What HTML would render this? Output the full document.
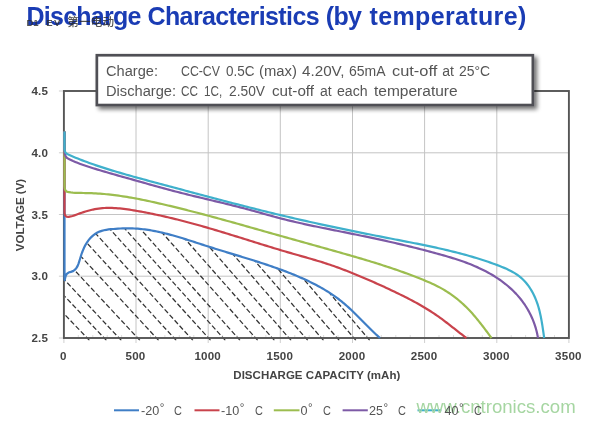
<!DOCTYPE html>
<html><head><meta charset="utf-8"><title>Discharge Characteristics (by temperature)</title>
<style>
html,body{margin:0;padding:0;background:#fff;}
body{width:600px;height:424px;position:relative;overflow:hidden;filter:blur(0.35px);font-family:"Liberation Sans","Noto Sans CJK SC",sans-serif;}
.t{position:absolute;white-space:nowrap;line-height:1;}
#title{left:0;top:3.8px;font-size:25px;font-weight:bold;color:#1a3cb4;}
#title span{position:absolute;top:0}
#wm1{left:26.5px;top:16.3px;font-size:11.6px;color:#2e2e2e;opacity:.82}
.wl{font-size:9.5px;font-weight:bold;position:relative;top:-0.5px}
.wc{margin-left:5.5px;letter-spacing:0.1px;font-weight:500}
.lg{font-size:14px;color:#555;transform-origin:0 0;}
.yl{font-size:11.6px;font-weight:bold;color:#444;width:48.2px;text-align:right;left:0;letter-spacing:0.2px;margin-top:0.2px}
.xl{font-size:11.6px;font-weight:bold;color:#444;width:60px;text-align:center;top:349.8px;letter-spacing:0.2px;}
#xt{left:233.3px;top:370px;font-size:11.5px;letter-spacing:0.03px;font-weight:bold;color:#444;}
#yt{left:21.2px;top:215px;font-size:11.5px;font-weight:bold;color:#444;transform:translate(-50%,-50%) rotate(-90deg);}
.bl{font-size:12.6px;color:#555;top:404.5px;}
.dg{font-size:11.5px;position:relative;top:-3.2px;margin-left:0.6px}
.cc{display:inline-block;transform:scaleX(0.87);transform-origin:0 50%}
#wm2{left:416.5px;top:397.5px;font-size:18.6px;color:#a6d6a2;}
</style></head><body>
<svg width="600" height="424" viewBox="0 0 600 424" style="position:absolute;left:0;top:0">
<defs>
<filter id="sh" x="-5%" y="-20%" width="112%" height="150%"><feGaussianBlur in="SourceAlpha" stdDeviation="2.2"/><feOffset dx="2.5" dy="2.5"/><feComponentTransfer><feFuncA type="linear" slope="0.55"/></feComponentTransfer><feMerge><feMergeNode/><feMergeNode in="SourceGraphic"/></feMerge></filter>
<clipPath id="hc"><path d="M64.5 340.4 L64.5 280  L64.73 280.10 L65.04 278.62 L65.67 275.92 L66.81 273.81 L68.57 272.52 L70.82 271.88 L73.07 271.10 L74.98 269.72 L76.50 267.90 L77.66 265.85 L78.54 263.69 L79.25 261.45 L79.92 259.20 L80.60 256.95 L81.32 254.72 L82.09 252.51 L82.92 250.34 L83.84 248.20 L84.85 246.10 L85.98 244.05 L87.24 242.06 L88.63 240.15 L90.15 238.33 L91.79 236.64 L93.55 235.10 L95.43 233.74 L97.42 232.57 L99.51 231.62 L101.69 230.86 L103.94 230.27 L106.24 229.81 L108.58 229.46 L110.94 229.19 L113.31 228.98 L115.66 228.79 L118.01 228.63 L120.34 228.51 L122.67 228.41 L124.99 228.35 L127.31 228.33 L129.06 228.33 L130.80 228.36 L132.55 228.41 L134.29 228.49 L136.03 228.58 L137.77 228.71 L139.51 228.85 L141.25 229.02 L142.99 229.22 L144.73 229.43 L146.46 229.67 L148.20 229.92 L149.93 230.20 L151.67 230.49 L153.40 230.81 L155.13 231.14 L156.86 231.49 L158.59 231.86 L160.32 232.24 L162.05 232.63 L163.77 233.04 L165.50 233.47 L167.22 233.91 L168.95 234.36 L170.67 234.82 L172.39 235.29 L174.11 235.77 L175.83 236.27 L177.55 236.77 L179.27 237.28 L180.99 237.80 L182.71 238.32 L184.42 238.85 L186.14 239.39 L187.85 239.93 L189.56 240.47 L191.28 241.02 L192.99 241.57 L194.70 242.13 L196.41 242.68 L198.11 243.24 L199.82 243.79 L201.53 244.35 L203.23 244.90 L204.94 245.45 L206.64 246.00 L208.34 246.55 L210.05 247.09 L211.75 247.62 L213.45 248.16 L215.14 248.69 L216.84 249.22 L218.54 249.74 L220.24 250.26 L221.93 250.78 L223.62 251.30 L225.32 251.82 L227.01 252.33 L228.70 252.84 L230.39 253.36 L232.08 253.87 L233.77 254.38 L235.45 254.89 L237.14 255.40 L238.82 255.91 L240.51 256.42 L242.19 256.93 L243.87 257.45 L245.55 257.96 L247.23 258.48 L248.91 259.00 L250.58 259.52 L252.26 260.04 L253.93 260.56 L255.60 261.09 L257.28 261.62 L258.95 262.16 L260.61 262.70 L262.28 263.24 L263.95 263.79 L265.61 264.34 L267.28 264.89 L268.94 265.45 L270.60 266.02 L272.26 266.59 L273.92 267.17 L275.58 267.75 L277.24 268.34 L278.89 268.94 L280.54 269.54 L282.20 270.15 L283.85 270.77 L285.50 271.39 L287.14 272.03 L288.79 272.67 L290.44 273.32 L292.08 273.97 L293.72 274.64 L295.36 275.32 L297.00 276.00 L298.64 276.70 L300.27 277.40 L301.90 278.12 L303.52 278.85 L305.14 279.59 L306.76 280.34 L308.37 281.10 L309.97 281.87 L311.57 282.65 L313.16 283.45 L314.75 284.26 L316.32 285.09 L317.89 285.93 L319.45 286.78 L321.00 287.64 L322.55 288.52 L324.08 289.42 L325.60 290.33 L327.11 291.25 L328.61 292.19 L330.10 293.15 L331.58 294.13 L333.04 295.12 L334.50 296.12 L335.93 297.15 L337.36 298.19 L338.77 299.25 L340.17 300.33 L341.55 301.42 L342.91 302.54 L344.27 303.67 L345.60 304.82 L346.93 305.99 L348.24 307.17 L349.54 308.36 L350.83 309.57 L352.12 310.78 L353.39 312.01 L354.66 313.25 L355.92 314.49 L357.17 315.74 L358.43 316.99 L359.67 318.25 L360.92 319.51 L362.16 320.78 L363.41 322.04 L364.65 323.31 L365.90 324.57 L367.15 325.83 L368.40 327.08 L369.66 328.33 L370.92 329.57 L372.19 330.81 L373.47 332.04 L374.76 333.25 L376.05 334.46 L377.36 335.65 L378.67 336.83 L380.00 338.00 L382 340.4 Z"/></clipPath>
</defs>
<path d="M136.0 91.0 V338.0 M208.2 91.0 V338.0 M280.3 91.0 V338.0 M352.5 91.0 V338.0 M424.6 91.0 V338.0 M496.8 91.0 V338.0 M63.9 152.8 H568.9 M63.9 214.5 H568.9 M63.9 276.2 H568.9" stroke="#c4c4c4" stroke-width="1" fill="none"/>
<path d="M58.9 91.0 H63.9 M58.9 152.8 H63.9 M58.9 214.5 H63.9 M58.9 276.2 H63.9 M58.9 338.0 H63.9 M63.9 338.0 V343.0 M136.0 338.0 V343.0 M208.2 338.0 V343.0 M280.3 338.0 V343.0 M352.5 338.0 V343.0 M424.6 338.0 V343.0 M496.8 338.0 V343.0 M568.9 338.0 V343.0" stroke="#cfcfcf" stroke-width="1" fill="none"/>
<path d="M78.3 335.0 V338.0 M92.8 335.0 V338.0 M107.2 335.0 V338.0 M121.6 335.0 V338.0 M150.5 335.0 V338.0 M164.9 335.0 V338.0 M179.3 335.0 V338.0 M193.8 335.0 V338.0 M222.6 335.0 V338.0 M237.0 335.0 V338.0 M251.5 335.0 V338.0 M265.9 335.0 V338.0 M294.8 335.0 V338.0 M309.2 335.0 V338.0 M323.6 335.0 V338.0 M338.0 335.0 V338.0 M366.9 335.0 V338.0 M381.3 335.0 V338.0 M395.8 335.0 V338.0 M410.2 335.0 V338.0 M439.0 335.0 V338.0 M453.5 335.0 V338.0 M467.9 335.0 V338.0 M482.3 335.0 V338.0 M511.2 335.0 V338.0 M525.6 335.0 V338.0 M540.0 335.0 V338.0 M554.5 335.0 V338.0" stroke="#dddddd" stroke-width="1" fill="none"/>
<g clip-path="url(#hc)"><path d="M89.4 340.4 L-25.3 220.0 M106.4 340.4 L-7.4 220.0 M121.3 340.4 L8.3 220.0 M139.9 340.4 L27.8 220.0 M158.6 340.4 L47.3 220.0 M176.2 340.4 L65.8 220.0 M192.9 340.4 L83.3 220.0 M210.6 340.4 L101.7 220.0 M225.3 340.4 L117.1 220.0 M240.0 340.4 L132.5 220.0 M257.7 340.4 L150.9 220.0 M274.4 340.4 L168.4 220.0 M291.1 340.4 L185.8 220.0 M307.8 340.4 L203.2 220.0 M323.5 340.4 L219.6 220.0 M339.2 340.4 L236.0 220.0 M355.9 340.4 L253.4 220.0 M369.7 340.4 L267.7 220.0" stroke="#333" stroke-width="1.25" stroke-dasharray="5 2.4" fill="none"/></g>
<rect x="63.9" y="91.0" width="505.0" height="247.0" fill="none" stroke="#555" stroke-width="1.9"/>
<path d="M64.5 131.5 L64.5 277.0 L64.73 280.10 L65.04 278.62 L65.67 275.92 L66.81 273.81 L68.57 272.52 L70.82 271.88 L73.07 271.10 L74.98 269.72 L76.50 267.90 L77.66 265.85 L78.54 263.69 L79.25 261.45 L79.92 259.20 L80.60 256.95 L81.32 254.72 L82.09 252.51 L82.92 250.34 L83.84 248.20 L84.85 246.10 L85.98 244.05 L87.24 242.06 L88.63 240.15 L90.15 238.33 L91.79 236.64 L93.55 235.10 L95.43 233.74 L97.42 232.57 L99.51 231.62 L101.69 230.86 L103.94 230.27 L106.24 229.81 L108.58 229.46 L110.94 229.19 L113.31 228.98 L115.66 228.79 L118.01 228.63 L120.34 228.51 L122.67 228.41 L124.99 228.35 L127.31 228.33 L129.06 228.33 L130.80 228.36 L132.55 228.41 L134.29 228.49 L136.03 228.58 L137.77 228.71 L139.51 228.85 L141.25 229.02 L142.99 229.22 L144.73 229.43 L146.46 229.67 L148.20 229.92 L149.93 230.20 L151.67 230.49 L153.40 230.81 L155.13 231.14 L156.86 231.49 L158.59 231.86 L160.32 232.24 L162.05 232.63 L163.77 233.04 L165.50 233.47 L167.22 233.91 L168.95 234.36 L170.67 234.82 L172.39 235.29 L174.11 235.77 L175.83 236.27 L177.55 236.77 L179.27 237.28 L180.99 237.80 L182.71 238.32 L184.42 238.85 L186.14 239.39 L187.85 239.93 L189.56 240.47 L191.28 241.02 L192.99 241.57 L194.70 242.13 L196.41 242.68 L198.11 243.24 L199.82 243.79 L201.53 244.35 L203.23 244.90 L204.94 245.45 L206.64 246.00 L208.34 246.55 L210.05 247.09 L211.75 247.62 L213.45 248.16 L215.14 248.69 L216.84 249.22 L218.54 249.74 L220.24 250.26 L221.93 250.78 L223.62 251.30 L225.32 251.82 L227.01 252.33 L228.70 252.84 L230.39 253.36 L232.08 253.87 L233.77 254.38 L235.45 254.89 L237.14 255.40 L238.82 255.91 L240.51 256.42 L242.19 256.93 L243.87 257.45 L245.55 257.96 L247.23 258.48 L248.91 259.00 L250.58 259.52 L252.26 260.04 L253.93 260.56 L255.60 261.09 L257.28 261.62 L258.95 262.16 L260.61 262.70 L262.28 263.24 L263.95 263.79 L265.61 264.34 L267.28 264.89 L268.94 265.45 L270.60 266.02 L272.26 266.59 L273.92 267.17 L275.58 267.75 L277.24 268.34 L278.89 268.94 L280.54 269.54 L282.20 270.15 L283.85 270.77 L285.50 271.39 L287.14 272.03 L288.79 272.67 L290.44 273.32 L292.08 273.97 L293.72 274.64 L295.36 275.32 L297.00 276.00 L298.64 276.70 L300.27 277.40 L301.90 278.12 L303.52 278.85 L305.14 279.59 L306.76 280.34 L308.37 281.10 L309.97 281.87 L311.57 282.65 L313.16 283.45 L314.75 284.26 L316.32 285.09 L317.89 285.93 L319.45 286.78 L321.00 287.64 L322.55 288.52 L324.08 289.42 L325.60 290.33 L327.11 291.25 L328.61 292.19 L330.10 293.15 L331.58 294.13 L333.04 295.12 L334.50 296.12 L335.93 297.15 L337.36 298.19 L338.77 299.25 L340.17 300.33 L341.55 301.42 L342.91 302.54 L344.27 303.67 L345.60 304.82 L346.93 305.99 L348.24 307.17 L349.54 308.36 L350.83 309.57 L352.12 310.78 L353.39 312.01 L354.66 313.25 L355.92 314.49 L357.17 315.74 L358.43 316.99 L359.67 318.25 L360.92 319.51 L362.16 320.78 L363.41 322.04 L364.65 323.31 L365.90 324.57 L367.15 325.83 L368.40 327.08 L369.66 328.33 L370.92 329.57 L372.19 330.81 L373.47 332.04 L374.76 333.25 L376.05 334.46 L377.36 335.65 L378.67 336.83 L380.00 338.00" stroke="#3f7ec6" stroke-width="2.2" fill="none" stroke-linejoin="round" stroke-linecap="butt"/>
<path d="M64.5 131.5 L64.5 212.5 Q64.5 217.2 68.80 216.81 L70.70 216.45 L72.56 215.97 L74.40 215.38 L76.23 214.73 L78.06 214.07 L79.90 213.41 L81.74 212.77 L83.59 212.16 L85.45 211.56 L87.31 211.00 L89.18 210.47 L91.06 209.99 L92.95 209.55 L94.84 209.16 L96.74 208.82 L98.64 208.54 L100.55 208.32 L102.47 208.14 L104.39 208.01 L106.31 207.93 L108.24 207.90 L110.17 207.90 L112.10 207.95 L114.04 208.03 L115.98 208.14 L117.92 208.29 L119.86 208.46 L121.80 208.67 L123.74 208.90 L125.68 209.15 L127.63 209.42 L129.57 209.71 L131.51 210.01 L133.44 210.33 L135.38 210.65 L137.31 210.99 L139.24 211.33 L141.16 211.68 L143.09 212.04 L145.01 212.40 L146.92 212.77 L148.84 213.15 L150.75 213.53 L152.66 213.92 L154.57 214.32 L156.47 214.72 L158.37 215.13 L160.28 215.55 L162.17 215.97 L164.07 216.40 L165.96 216.83 L167.86 217.27 L169.75 217.72 L171.63 218.17 L173.52 218.62 L175.40 219.08 L177.29 219.55 L179.17 220.02 L181.05 220.50 L182.93 220.98 L184.80 221.47 L186.68 221.96 L188.55 222.46 L190.43 222.96 L192.30 223.47 L194.17 223.98 L196.04 224.49 L197.91 225.01 L199.78 225.53 L201.64 226.06 L203.51 226.59 L205.37 227.13 L207.24 227.66 L209.10 228.21 L210.97 228.75 L212.83 229.30 L214.69 229.85 L216.56 230.41 L218.42 230.97 L220.28 231.53 L222.14 232.09 L224.00 232.65 L225.86 233.22 L227.72 233.79 L229.58 234.36 L231.44 234.94 L233.30 235.51 L235.16 236.09 L237.02 236.66 L238.88 237.24 L240.74 237.82 L242.60 238.40 L244.46 238.98 L246.32 239.56 L248.18 240.14 L250.04 240.72 L251.89 241.30 L253.75 241.88 L255.61 242.46 L257.47 243.04 L259.33 243.62 L261.19 244.20 L263.06 244.77 L264.92 245.35 L266.78 245.92 L268.64 246.49 L270.50 247.06 L272.36 247.63 L274.23 248.20 L276.09 248.76 L277.95 249.32 L279.82 249.88 L281.68 250.43 L283.55 250.99 L285.42 251.54 L287.28 252.08 L289.15 252.63 L291.02 253.16 L292.89 253.70 L294.76 254.23 L296.63 254.77 L298.50 255.30 L300.37 255.82 L302.24 256.35 L304.11 256.89 L305.98 257.42 L307.84 257.95 L309.71 258.49 L311.58 259.03 L313.44 259.58 L315.30 260.13 L317.16 260.69 L319.02 261.25 L320.88 261.82 L322.73 262.40 L324.58 262.99 L326.43 263.58 L328.27 264.19 L330.12 264.81 L331.96 265.44 L333.79 266.08 L335.62 266.73 L337.45 267.39 L339.28 268.06 L341.10 268.74 L342.92 269.43 L344.74 270.13 L346.55 270.83 L348.37 271.54 L350.18 272.26 L351.98 272.99 L353.79 273.72 L355.59 274.46 L357.39 275.20 L359.18 275.95 L360.98 276.70 L362.77 277.46 L364.56 278.22 L366.35 278.98 L368.14 279.75 L369.92 280.52 L371.70 281.30 L373.48 282.08 L375.26 282.87 L377.03 283.66 L378.81 284.46 L380.58 285.26 L382.35 286.06 L384.11 286.87 L385.88 287.68 L387.64 288.50 L389.40 289.33 L391.16 290.16 L392.92 290.99 L394.67 291.83 L396.42 292.67 L398.17 293.52 L399.92 294.37 L401.67 295.23 L403.41 296.10 L405.15 296.97 L406.88 297.85 L408.61 298.74 L410.34 299.64 L412.06 300.54 L413.78 301.46 L415.49 302.39 L417.19 303.32 L418.89 304.27 L420.58 305.23 L422.26 306.20 L423.94 307.19 L425.61 308.18 L427.26 309.19 L428.91 310.22 L430.55 311.26 L432.19 312.32 L433.81 313.39 L435.42 314.48 L437.02 315.58 L438.60 316.70 L440.18 317.84 L441.75 318.98 L443.32 320.14 L444.87 321.32 L446.42 322.50 L447.97 323.68 L449.51 324.88 L451.04 326.07 L452.58 327.28 L454.11 328.48 L455.64 329.68 L457.17 330.89 L458.70 332.09 L460.23 333.28 L461.77 334.47 L463.31 335.66 L464.85 336.83 L466.40 338.00" stroke="#c9434c" stroke-width="2.2" fill="none" stroke-linejoin="round" stroke-linecap="butt"/>
<path d="M64.5 131.5 L64.5 186.5 Q64.5 191.9 68.80 192.21 L70.86 192.46 L72.93 192.65 L75.00 192.79 L77.08 192.88 L79.17 192.93 L81.25 192.97 L83.34 193.00 L85.43 193.03 L87.52 193.07 L89.61 193.13 L91.70 193.21 L93.79 193.30 L95.88 193.41 L97.96 193.54 L100.05 193.69 L102.13 193.85 L104.22 194.02 L106.30 194.22 L108.38 194.43 L110.46 194.65 L112.53 194.89 L114.61 195.14 L116.68 195.41 L118.75 195.69 L120.81 195.99 L122.88 196.30 L124.94 196.62 L127.00 196.95 L129.06 197.30 L131.12 197.66 L133.18 198.02 L135.23 198.40 L137.28 198.79 L139.34 199.18 L141.39 199.59 L143.43 200.00 L145.48 200.43 L147.52 200.85 L149.57 201.29 L151.61 201.73 L153.65 202.18 L155.69 202.64 L157.73 203.10 L159.77 203.56 L161.81 204.03 L163.84 204.50 L165.88 204.98 L167.91 205.46 L169.94 205.94 L171.98 206.43 L174.01 206.92 L176.04 207.41 L178.07 207.91 L180.09 208.41 L182.12 208.92 L184.15 209.42 L186.18 209.94 L188.20 210.45 L190.23 210.97 L192.25 211.49 L194.27 212.01 L196.29 212.53 L198.32 213.06 L200.34 213.59 L202.36 214.13 L204.38 214.66 L206.40 215.20 L208.42 215.74 L210.43 216.28 L212.45 216.83 L214.47 217.37 L216.48 217.92 L218.50 218.47 L220.52 219.02 L222.53 219.57 L224.55 220.13 L226.56 220.69 L228.57 221.24 L230.59 221.80 L232.60 222.36 L234.61 222.93 L236.63 223.49 L238.64 224.05 L240.65 224.62 L242.66 225.18 L244.67 225.75 L246.68 226.32 L248.69 226.88 L250.71 227.45 L252.72 228.02 L254.73 228.59 L256.74 229.16 L258.75 229.73 L260.76 230.30 L262.77 230.87 L264.78 231.44 L266.79 232.01 L268.80 232.57 L270.81 233.14 L272.82 233.71 L274.83 234.28 L276.84 234.85 L278.85 235.42 L280.86 235.98 L282.87 236.55 L284.88 237.11 L286.89 237.68 L288.90 238.24 L290.91 238.80 L292.92 239.37 L294.93 239.93 L296.94 240.49 L298.95 241.05 L300.96 241.62 L302.98 242.18 L304.99 242.74 L307.00 243.30 L309.01 243.86 L311.02 244.42 L313.03 244.98 L315.04 245.54 L317.06 246.11 L319.07 246.67 L321.08 247.23 L323.09 247.79 L325.10 248.35 L327.11 248.92 L329.13 249.48 L331.14 250.04 L333.15 250.61 L335.16 251.17 L337.17 251.74 L339.19 252.30 L341.20 252.87 L343.21 253.44 L345.22 254.01 L347.23 254.59 L349.24 255.16 L351.25 255.74 L353.26 256.32 L355.26 256.90 L357.27 257.49 L359.27 258.08 L361.28 258.67 L363.28 259.26 L365.29 259.86 L367.29 260.46 L369.29 261.07 L371.28 261.68 L373.28 262.30 L375.28 262.91 L377.27 263.54 L379.26 264.17 L381.25 264.80 L383.24 265.44 L385.23 266.08 L387.22 266.73 L389.20 267.39 L391.18 268.05 L393.16 268.71 L395.14 269.39 L397.11 270.07 L399.08 270.75 L401.05 271.45 L403.02 272.15 L404.98 272.85 L406.95 273.57 L408.91 274.29 L410.86 275.02 L412.82 275.76 L414.77 276.50 L416.71 277.26 L418.66 278.02 L420.60 278.79 L422.54 279.57 L424.47 280.36 L426.40 281.17 L428.32 281.99 L430.23 282.82 L432.14 283.68 L434.03 284.56 L435.91 285.47 L437.77 286.41 L439.62 287.38 L441.46 288.38 L443.27 289.41 L445.07 290.48 L446.84 291.59 L448.60 292.73 L450.34 293.91 L452.05 295.11 L453.74 296.35 L455.41 297.62 L457.06 298.92 L458.69 300.25 L460.29 301.61 L461.86 302.99 L463.41 304.40 L464.94 305.83 L466.44 307.29 L467.91 308.77 L469.36 310.28 L470.79 311.80 L472.19 313.35 L473.57 314.91 L474.93 316.50 L476.27 318.09 L477.59 319.70 L478.90 321.33 L480.19 322.96 L481.48 324.61 L482.75 326.27 L484.01 327.93 L485.27 329.60 L486.52 331.27 L487.77 332.95 L489.01 334.63 L490.26 336.32 L491.50 338.00" stroke="#9cbd4f" stroke-width="2.2" fill="none" stroke-linejoin="round" stroke-linecap="butt"/>
<path d="M64.5 131.5 L64.5 151.0 Q64.5 157.2 68.80 158.91 L70.93 159.95 L73.08 160.95 L75.25 161.89 L77.44 162.79 L79.65 163.66 L81.87 164.48 L84.10 165.27 L86.34 166.04 L88.59 166.78 L90.86 167.50 L93.12 168.21 L95.39 168.91 L97.67 169.59 L99.94 170.28 L102.22 170.95 L104.50 171.63 L106.78 172.29 L109.07 172.95 L111.35 173.61 L113.64 174.27 L115.93 174.92 L118.21 175.57 L120.50 176.22 L122.79 176.86 L125.08 177.50 L127.37 178.15 L129.66 178.79 L131.95 179.43 L134.24 180.07 L136.53 180.72 L138.82 181.36 L141.11 182.01 L143.39 182.65 L145.68 183.30 L147.97 183.94 L150.25 184.59 L152.54 185.23 L154.83 185.87 L157.11 186.51 L159.40 187.14 L161.69 187.77 L163.98 188.40 L166.27 189.02 L168.57 189.64 L170.86 190.25 L173.16 190.86 L175.45 191.46 L177.75 192.05 L180.05 192.64 L182.36 193.23 L184.66 193.80 L186.97 194.38 L189.27 194.95 L191.58 195.51 L193.89 196.07 L196.20 196.63 L198.51 197.19 L200.82 197.74 L203.13 198.30 L205.44 198.85 L207.75 199.40 L210.07 199.95 L212.38 200.51 L214.69 201.06 L217.00 201.61 L219.31 202.17 L221.62 202.73 L223.93 203.29 L226.24 203.85 L228.55 204.42 L230.86 204.99 L233.17 205.56 L235.47 206.14 L237.78 206.73 L240.08 207.32 L242.38 207.91 L244.68 208.52 L246.98 209.13 L249.27 209.75 L251.57 210.37 L253.86 211.00 L256.15 211.64 L258.44 212.28 L260.73 212.92 L263.02 213.57 L265.31 214.21 L267.60 214.85 L269.89 215.49 L272.18 216.12 L274.47 216.74 L276.76 217.36 L279.06 217.97 L281.36 218.57 L283.66 219.16 L285.96 219.74 L288.27 220.31 L290.57 220.87 L292.88 221.42 L295.20 221.96 L297.51 222.50 L299.82 223.03 L302.14 223.55 L304.46 224.06 L306.78 224.57 L309.10 225.07 L311.42 225.57 L313.75 226.06 L316.07 226.54 L318.40 227.03 L320.72 227.51 L323.05 227.98 L325.38 228.45 L327.71 228.92 L330.04 229.39 L332.37 229.86 L334.70 230.32 L337.03 230.79 L339.36 231.25 L341.70 231.71 L344.03 232.18 L346.36 232.64 L348.69 233.11 L351.02 233.58 L353.35 234.05 L355.68 234.52 L358.01 235.00 L360.34 235.47 L362.67 235.96 L365.00 236.44 L367.33 236.93 L369.65 237.42 L371.98 237.91 L374.31 238.40 L376.63 238.90 L378.96 239.41 L381.28 239.91 L383.60 240.42 L385.92 240.94 L388.24 241.46 L390.56 241.98 L392.88 242.51 L395.20 243.04 L397.52 243.57 L399.83 244.11 L402.14 244.66 L404.46 245.21 L406.77 245.76 L409.08 246.32 L411.38 246.89 L413.69 247.46 L416.00 248.04 L418.30 248.62 L420.60 249.20 L422.90 249.80 L425.20 250.39 L427.50 251.00 L429.79 251.61 L432.08 252.22 L434.37 252.85 L436.66 253.48 L438.95 254.11 L441.24 254.75 L443.52 255.40 L445.80 256.06 L448.08 256.73 L450.35 257.41 L452.62 258.10 L454.88 258.81 L457.14 259.54 L459.40 260.28 L461.64 261.05 L463.88 261.83 L466.12 262.65 L468.34 263.48 L470.56 264.35 L472.76 265.25 L474.96 266.17 L477.15 267.13 L479.32 268.13 L481.48 269.15 L483.63 270.21 L485.76 271.31 L487.87 272.44 L489.96 273.61 L492.03 274.81 L494.07 276.05 L496.09 277.32 L498.08 278.63 L500.05 279.98 L501.98 281.37 L503.88 282.80 L505.75 284.26 L507.59 285.77 L509.38 287.31 L511.14 288.89 L512.86 290.51 L514.54 292.18 L516.17 293.88 L517.76 295.63 L519.30 297.42 L520.79 299.25 L522.23 301.12 L523.63 303.04 L524.97 304.99 L526.25 306.99 L527.48 309.02 L528.66 311.09 L529.77 313.19 L530.83 315.32 L531.84 317.48 L532.78 319.68 L533.65 321.89 L534.47 324.13 L535.22 326.40 L535.91 328.68 L536.54 330.99 L537.09 333.31 L537.58 335.65 L538.00 338.00" stroke="#7d5aa6" stroke-width="2.2" fill="none" stroke-linejoin="round" stroke-linecap="butt"/>
<path d="M64.5 131.5 L64.5 149.0 Q64.5 153.4 68.80 154.81 L71.04 155.78 L73.29 156.73 L75.55 157.67 L77.82 158.59 L80.09 159.49 L82.37 160.37 L84.65 161.24 L86.95 162.09 L89.24 162.92 L91.55 163.75 L93.86 164.55 L96.17 165.35 L98.49 166.13 L100.81 166.90 L103.14 167.65 L105.47 168.40 L107.80 169.13 L110.14 169.86 L112.48 170.58 L114.83 171.28 L117.17 171.98 L119.52 172.67 L121.87 173.36 L124.23 174.03 L126.58 174.71 L128.94 175.37 L131.30 176.03 L133.66 176.69 L136.02 177.35 L138.38 178.00 L140.74 178.65 L143.10 179.29 L145.46 179.93 L147.82 180.58 L150.19 181.21 L152.55 181.85 L154.91 182.49 L157.27 183.12 L159.64 183.76 L162.00 184.39 L164.36 185.02 L166.73 185.65 L169.09 186.28 L171.46 186.91 L173.82 187.54 L176.18 188.17 L178.55 188.80 L180.91 189.43 L183.28 190.06 L185.64 190.69 L188.00 191.32 L190.37 191.95 L192.73 192.58 L195.10 193.21 L197.46 193.84 L199.83 194.47 L202.19 195.10 L204.56 195.73 L206.92 196.36 L209.29 196.98 L211.66 197.61 L214.02 198.23 L216.39 198.86 L218.76 199.48 L221.12 200.10 L223.49 200.73 L225.86 201.35 L228.23 201.96 L230.60 202.58 L232.96 203.20 L235.33 203.81 L237.70 204.42 L240.07 205.03 L242.44 205.64 L244.82 206.25 L247.19 206.86 L249.56 207.46 L251.93 208.06 L254.31 208.66 L256.68 209.26 L259.05 209.85 L261.43 210.45 L263.80 211.04 L266.18 211.62 L268.56 212.21 L270.93 212.79 L273.31 213.37 L275.69 213.95 L278.07 214.52 L280.45 215.10 L282.83 215.66 L285.21 216.23 L287.59 216.79 L289.97 217.35 L292.36 217.91 L294.74 218.46 L297.13 219.01 L299.51 219.56 L301.90 220.10 L304.29 220.64 L306.67 221.18 L309.06 221.71 L311.45 222.25 L313.84 222.77 L316.23 223.30 L318.62 223.82 L321.01 224.35 L323.41 224.86 L325.80 225.38 L328.19 225.89 L330.59 226.40 L332.98 226.91 L335.37 227.42 L337.77 227.92 L340.17 228.43 L342.56 228.93 L344.96 229.42 L347.36 229.92 L349.75 230.41 L352.15 230.90 L354.55 231.39 L356.95 231.88 L359.35 232.37 L361.75 232.85 L364.15 233.33 L366.55 233.81 L368.95 234.29 L371.35 234.77 L373.75 235.24 L376.15 235.72 L378.55 236.19 L380.95 236.66 L383.36 237.13 L385.76 237.60 L388.16 238.07 L390.56 238.54 L392.97 239.00 L395.37 239.47 L397.77 239.93 L400.17 240.40 L402.58 240.86 L404.98 241.33 L407.38 241.80 L409.78 242.27 L412.18 242.74 L414.58 243.21 L416.98 243.69 L419.38 244.17 L421.78 244.66 L424.18 245.15 L426.57 245.65 L428.96 246.15 L431.36 246.65 L433.75 247.17 L436.14 247.69 L438.52 248.22 L440.91 248.75 L443.29 249.30 L445.68 249.85 L448.06 250.41 L450.43 250.98 L452.81 251.57 L455.18 252.16 L457.55 252.76 L459.92 253.38 L462.28 254.00 L464.65 254.64 L467.01 255.29 L469.36 255.96 L471.71 256.64 L474.06 257.33 L476.41 258.04 L478.75 258.76 L481.09 259.50 L483.43 260.25 L485.76 261.02 L488.09 261.81 L490.42 262.62 L492.74 263.44 L495.05 264.28 L497.36 265.14 L499.67 266.02 L501.96 266.93 L504.24 267.87 L506.49 268.86 L508.70 269.90 L510.88 271.00 L513.01 272.16 L515.08 273.40 L517.10 274.73 L519.04 276.14 L520.92 277.65 L522.70 279.27 L524.41 280.99 L526.03 282.81 L527.56 284.72 L529.02 286.70 L530.38 288.76 L531.67 290.88 L532.87 293.05 L533.99 295.27 L535.02 297.53 L535.98 299.81 L536.85 302.12 L537.65 304.44 L538.38 306.78 L539.05 309.13 L539.66 311.50 L540.21 313.88 L540.72 316.27 L541.19 318.67 L541.63 321.08 L542.03 323.49 L542.42 325.91 L542.79 328.33 L543.14 330.75 L543.49 333.17 L543.84 335.59 L544.20 338.00" stroke="#3fb0cc" stroke-width="2.2" fill="none" stroke-linejoin="round" stroke-linecap="butt"/>
<rect x="96.85" y="55.25" width="436" height="49.8" fill="#fff" stroke="#505054" stroke-width="2.7" filter="url(#sh)"/>
<path d="M114.0 410.3 H139.0" stroke="#3f7ec6" stroke-width="2"/>
<path d="M194.5 410.3 H219.5" stroke="#c9434c" stroke-width="2"/>
<path d="M273.8 410.3 H299.5" stroke="#9cbd4f" stroke-width="2"/>
<path d="M342.6 410.3 H367.8" stroke="#7d5aa6" stroke-width="2"/>
<path d="M417.5 410.3 H441.3" stroke="#3fb0cc" stroke-width="2"/>
</svg>
<div class="t" id="title"><span style="left:26.5px;letter-spacing:-0.75px">Discharge</span><span style="left:147.5px;letter-spacing:-0.61px">Characteristics</span><span style="left:325.8px;letter-spacing:-0.7px">(by</span><span style="left:369.5px;letter-spacing:0.355px">temperature)</span></div>
<div class="t" id="wm1"><span class="wl">D1</span><span class="wl" style="margin-left:7.5px;letter-spacing:1.5px">EV</span><span class="wc">第一电动</span></div>
<span class="t lg" style="left:106.31px;top:63.8px;transform:scaleX(1.0442)">Charge:</span>
<span class="t lg" style="left:181.42px;top:63.8px;transform:scaleX(0.8779)">CC-CV</span>
<span class="t lg" style="left:225.58px;top:63.8px;transform:scaleX(0.9634)">0.5C</span>
<span class="t lg" style="left:259.31px;top:63.8px;transform:scaleX(1.0584)">(max)</span>
<span class="t lg" style="left:302.16px;top:63.8px;transform:scaleX(1.0863)">4.20V,</span>
<span class="t lg" style="left:349.34px;top:63.8px;transform:scaleX(1.0004)">65mA</span>
<span class="t lg" style="left:392.09px;top:63.8px;transform:scaleX(1.1709)">cut-off</span>
<span class="t lg" style="left:442.20px;top:63.8px;transform:scaleX(1.0000)">at</span>
<span class="t lg" style="left:459.35px;top:63.8px;transform:scaleX(0.9954)">25°C</span>
<span class="t lg" style="left:105.85px;top:83.6px;transform:scaleX(1.0471)">Discharge:</span>
<span class="t lg" style="left:181.45px;top:83.6px;transform:scaleX(0.8386)">CC</span>
<span class="t lg" style="left:203.67px;top:83.6px;transform:scaleX(0.8356)">1C,</span>
<span class="t lg" style="left:228.95px;top:83.6px;transform:scaleX(0.9834)">2.50V</span>
<span class="t lg" style="left:271.52px;top:83.6px;transform:scaleX(1.0873)">cut-off</span>
<span class="t lg" style="left:319.99px;top:83.6px;transform:scaleX(1.0000)">at</span>
<span class="t lg" style="left:337.16px;top:83.6px;transform:scaleX(1.0091)">each</span>
<span class="t lg" style="left:373.60px;top:83.6px;transform:scaleX(1.1079)">temperature</span>
<div class="t yl" style="top:85px">4.5</div>
<div class="t yl" style="top:146.8px">4.0</div>
<div class="t yl" style="top:208.5px">3.5</div>
<div class="t yl" style="top:270.3px">3.0</div>
<div class="t yl" style="top:332px">2.5</div>
<div class="t xl" style="left:33.4px">0</div>
<div class="t xl" style="left:105.5px">500</div>
<div class="t xl" style="left:177.7px">1000</div>
<div class="t xl" style="left:249.8px">1500</div>
<div class="t xl" style="left:322.0px">2000</div>
<div class="t xl" style="left:394.1px">2500</div>
<div class="t xl" style="left:466.3px">3000</div>
<div class="t xl" style="left:538.4px">3500</div>
<div class="t" id="yt">VOLTAGE (V)</div>
<div class="t" id="xt">DISCHARGE CAPACITY (mAh)</div>
<div class="t" id="wm2">www.cntronics.com</div>
<div class="t bl" id="b1" style="left:141px">-20<span class="dg">°</span></div><div class="t bl" style="left:174.4px"><span class="cc">C</span></div>
<div class="t bl" id="b2" style="left:221px">-10<span class="dg">°</span></div><div class="t bl" style="left:254.8px"><span class="cc">C</span></div>
<div class="t bl" id="b3" style="left:300.5px">0<span class="dg">°</span></div><div class="t bl" style="left:322.6px"><span class="cc">C</span></div>
<div class="t bl" id="b4" style="left:369px">25<span class="dg">°</span></div><div class="t bl" style="left:398px"><span class="cc">C</span></div>
<div class="t bl" id="b5" style="left:444.5px">40<span class="dg">°</span></div><div class="t bl" style="left:474px"><span class="cc">C</span></div>
</body></html>
